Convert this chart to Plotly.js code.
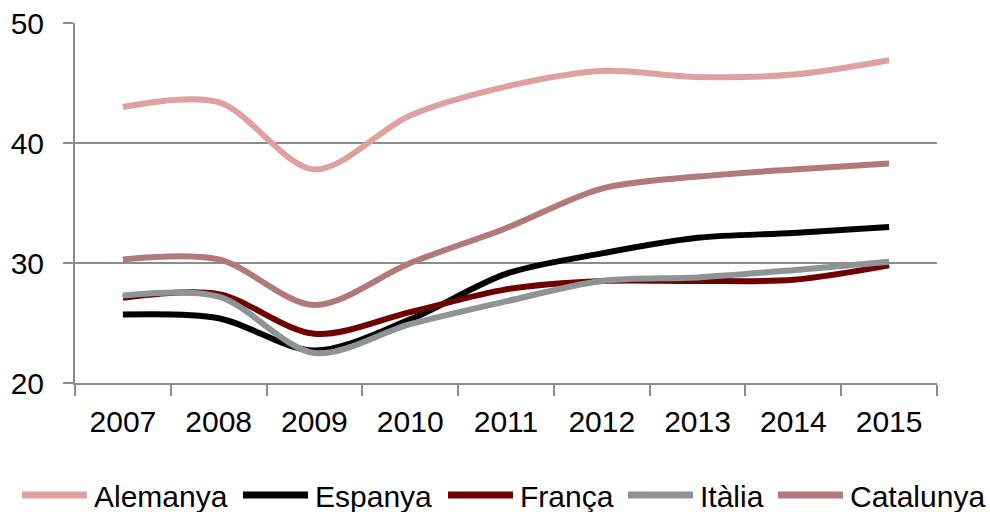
<!DOCTYPE html>
<html>
<head>
<meta charset="utf-8">
<script src="https://cdn.plot.ly/plotly-3.0.1.min.js"></script>
<style>html,body{margin:0;padding:0;background:#fff;}#chart{width:990px;height:512px;}</style>
</head>
<body>
<div id="chart"></div>
<script>
const years = ["2007","2008","2009","2010","2011","2012","2013","2014","2015"];
const alemanya  = [43.0, 43.4, 37.8, 42.3, 44.7, 46.0, 45.5, 45.7, 46.9];
const espanya   = [25.7, 25.4, 22.7, 25.3, 29.1, 30.8, 32.1, 32.5, 33.0];
const franca    = [27.1, 27.4, 24.1, 25.9, 27.8, 28.5, 28.5, 28.6, 29.8];
const italia    = [27.3, 27.2, 22.5, 24.9, 26.8, 28.5, 28.8, 29.4, 30.1];
const catalunya = [30.3, 30.3, 26.5, 30.0, 32.9, 36.2, 37.2, 37.8, 38.3];
const yTicks = [20, 30, 40, 50];

const series = [
  {name: "Alemanya",  y: alemanya,  color: "#dfa0a0"},
  {name: "Espanya",   y: espanya,   color: "#000000"},
  {name: "França",    y: franca,    color: "#6e0000"},
  {name: "Itàlia",    y: italia,    color: "#8e9396"},
  {name: "Catalunya", y: catalunya, color: "#b07a7a"}
];

const W = 990, H = 512;
const M = {l: 75, r: 53, t: 23, b: 129};
const PW = W - M.l - M.r, PH = H - M.t - M.b;

const traces = series.map(s => ({
  type: "scatter",
  mode: "lines",
  x: years,
  y: s.y,
  name: s.name,
  showlegend: false,
  line: {color: s.color, width: 6, shape: "spline", smoothing: 0.9}
}));

// Custom legend (Excel style: long line sample then label), in pixel positions converted to paper units
const legendLineStart = [22, 243, 448, 628, 778];
const legendLineLen = 65;
const legendTextGap = 5;
const legendY = 495;
const px2x = p => (p - M.l) / PW;
const px2y = p => (H - M.b - p) / PH;

const shapes = series.map((s, i) => ({
  type: "line", xref: "paper", yref: "paper",
  x0: px2x(legendLineStart[i]), x1: px2x(legendLineStart[i] + legendLineLen),
  y0: px2y(legendY), y1: px2y(legendY),
  line: {color: s.color, width: 7}
}));
const annotations = series.map((s, i) => ({
  xref: "paper", yref: "paper",
  x: px2x(legendLineStart[i] + legendLineLen + legendTextGap), y: px2y(legendY + 1),
  xanchor: "left", yanchor: "middle", showarrow: false,
  text: s.name, font: {size: 30, color: "#000"}
}));

const layout = {
  width: W, height: H,
  margin: M,
  paper_bgcolor: "#fff", plot_bgcolor: "#fff",
  font: {family: "Liberation Sans, Arial, sans-serif", size: 30, color: "#000"},
  showlegend: false,
  shapes: shapes,
  annotations: annotations,
  xaxis: {
    type: "category", range: [-0.5, 8.5], tickson: "boundaries",
    ticks: "outside", ticklen: 11, tickwidth: 2, tickcolor: "#8c8c8c",
    showline: true, linecolor: "#8c8c8c", linewidth: 2,
    showgrid: false, zeroline: false, ticklabelstandoff: 11, fixedrange: true
  },
  yaxis: {
    range: [20, 50], tickvals: yTicks, ticktext: yTicks.map(String),
    ticks: "outside", ticklen: 10, tickwidth: 2, tickcolor: "#8c8c8c",
    showline: true, linecolor: "#8c8c8c", linewidth: 2,
    showgrid: true, gridcolor: "#8c8c8c", gridwidth: 2,
    zeroline: false, ticklabelstandoff: 13, fixedrange: true
  }
};

Plotly.newPlot("chart", traces, layout, {displayModeBar: false, staticPlot: true});
</script>
</body>
</html>
